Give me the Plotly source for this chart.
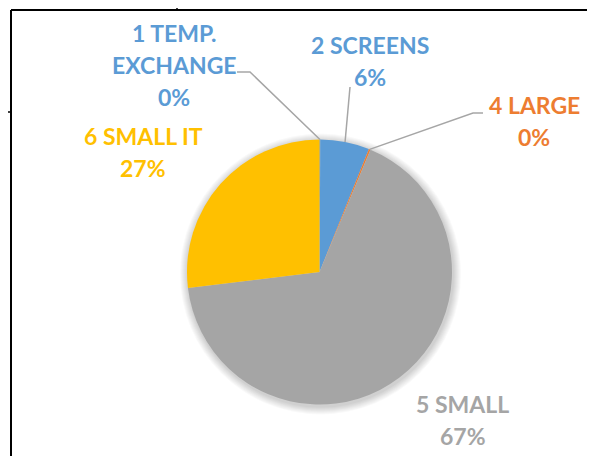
import math
import plotly.graph_objects as go

# ---- data ----
categories = ["1 TEMP. EXCHANGE", "2 SCREENS", "4 LARGE", "5 SMALL", "6 SMALL IT"]
values = [0.1, 6, 0.2, 67, 27]
colors = ["#4A7FB5", "#5B9BD5", "#ED7D31", "#A5A5A5", "#FFC000"]
label_colors = ["#5B9BD5", "#5B9BD5", "#ED7D31", "#A5A5A5", "#FFC000"]
label_lines = [["1 TEMP.", "EXCHANGE"], ["2 SCREENS"], ["4 LARGE"], ["5 SMALL"], ["6 SMALL IT"]]

W, H = 595, 456
OFF = 8  # page body margin in the browser
CX, CY, R = 319.5, 272, 132.5  # pie center / radius in screen px

def px(x):
    return (x - OFF) / W

def py(y):
    return 1 - (y - OFF) / H

# label layout (screen px): center x, first line center y
label_pos = [(174, 33), (370, 45), (534, 105), (463, 404), (143, 136)]
line_gap = 32
# leader-line label-side anchor points (screen px), None = no leader
leader_pts = [[(237, 72), (250, 72)], [(350, 87)], [(483, 113), (473, 113)], None, None]

total = sum(values)
pcts = [round(100 * v / total) for v in values]

fig = go.Figure(go.Pie(
    labels=categories, values=values, sort=False, direction="clockwise",
    rotation=0, textinfo="none", hoverinfo="label+percent",
    marker=dict(colors=colors, line=dict(width=0)),
    domain=dict(x=[px(CX - R), px(CX + R)], y=[py(CY + R), py(CY - R)]),
    showlegend=False,
))

font_base = dict(family="Lato", size=23, weight="bold")
annotations = []
for i, lines in enumerate(label_lines):
    x0, y0 = label_pos[i]
    all_lines = lines + [f"{pcts[i]}%"]
    for k, t in enumerate(all_lines):
        annotations.append(dict(
            x=px(x0), y=py(y0 + k * line_gap), xref="paper", yref="paper",
            text=t, showarrow=False, xanchor="center", yanchor="middle",
            font=dict(color=label_colors[i], **font_base),
        ))

shapes = []
# soft shadow behind the pie
for k in range(1, 9):
    rr = R + k
    shapes.append(dict(type="circle", xref="paper", yref="paper", layer="below",
                       x0=px(CX + 1 - rr), x1=px(CX + 1 + rr),
                       y0=py(CY + 2 + rr), y1=py(CY + 2 - rr),
                       fillcolor="rgba(0,0,0,0.025)", line=dict(width=0)))

cum = 0
for i, v in enumerate(values):
    mid = 2 * math.pi * (cum + v / 2) / total
    cum += v
    if leader_pts[i] is None:
        continue
    ex, ey = CX + R * math.sin(mid), CY - R * math.cos(mid)
    pts = leader_pts[i] + [(ex, ey)]
    path = "M " + " L ".join(f"{px(a):.5f},{py(b):.5f}" for a, b in pts)
    shapes.append(dict(type="path", path=path, xref="paper", yref="paper",
                       line=dict(color="#A6A6A6", width=1.5)))

# sheet / frame borders
frame = [((11, 10), (W + OFF, 10), 2), ((11, 10), (11, H + OFF), 2),
         ((177, 0), (177, 10), 1.5), ((0, 112), (11, 112), 1.5)]
for (a, b), (c, d), w in frame:
    shapes.append(dict(type="line", x0=px(a), y0=py(b), x1=px(c), y1=py(d),
                       xref="paper", yref="paper", line=dict(color="black", width=w)))

fig.update_layout(
    width=W, height=H, margin=dict(l=0, r=0, t=0, b=0),
    paper_bgcolor="white", plot_bgcolor="white",
    annotations=annotations, shapes=shapes,
)
fig.write_html("out.html")
